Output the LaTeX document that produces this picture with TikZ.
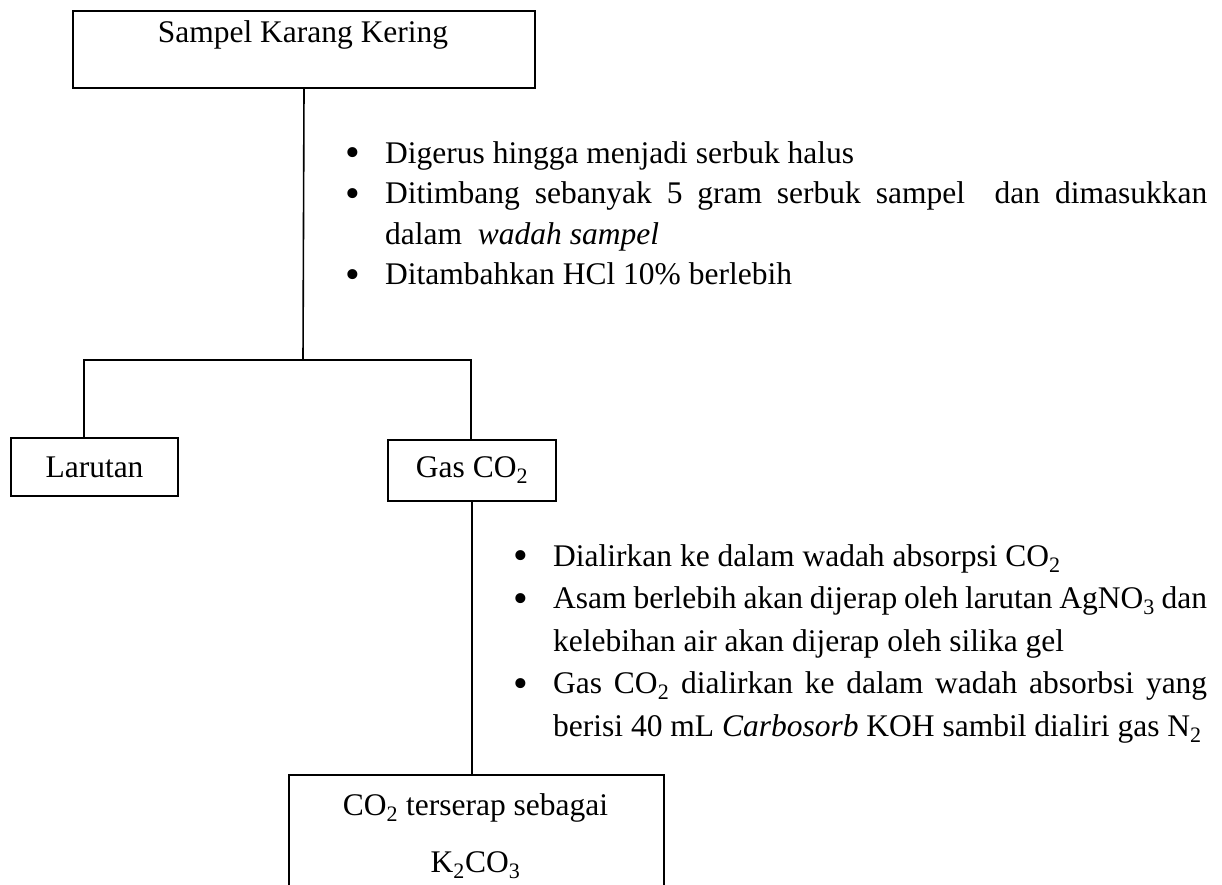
\documentclass[tikz,border=0pt]{standalone}
\usepackage{fontspec}
\setmainfont{Liberation Serif}
\newcommand\bul{\leavevmode\llap{\makebox[32pt][l]{\hspace{-7.35pt}\raisebox{-3.6pt}{\fontsize{42}{0}\selectfont\textbullet}}}}
\begin{document}
\begin{tikzpicture}[x=1pt,y=-1pt,
  box/.style={draw, line width=2pt, inner sep=0pt},
  conn/.style={line width=1.6pt},
  every node/.style={font=\fontsize{31.5}{40}\selectfont}]
\useasboundingbox (0,0) rectangle (1222,884);
\clip (0,0) rectangle (1222,884);
% boxes
\node[box, minimum width=462pt, minimum height=77pt, anchor=north west] (top) at (72,10) {};
\node[anchor=base] (toptxt) at (303,42) {Sampel Karang Kering};
\node[box, minimum width=167pt, minimum height=58pt, anchor=north west] (lar) at (10,437) {Larutan};
\node[box, minimum width=168pt, minimum height=61pt, anchor=north west] (gas) at (387,439) {Gas CO\textsubscript{2}};
\node[box, minimum width=375pt, minimum height=200pt, anchor=north west] (res) at (288,774) {};
\node[anchor=base] (res1) at (475.5,815) {CO\textsubscript{2} terserap sebagai};
\node[anchor=base] (res2) at (475.5,872) {K\textsubscript{2}CO\textsubscript{3}};
% lists
\node[anchor=base west, inner sep=0pt] (list1) at (385,163) {\parbox[t]{822pt}{\fontsize{31.5}{40.5}\selectfont\setlength\parindent{0pt}%
\bul Digerus hingga menjadi serbuk halus\par
\bul Ditimbang sebanyak 5 gram serbuk sampel\ \ dan dimasukkan\linebreak dalam\ \ \textit{wadah sampel}\par
\bul Ditambahkan HCl 10\% berlebih\par}};
\node[anchor=base west, inner sep=0pt] (list2) at (553,566) {\parbox[t]{654pt}{\fontsize{31.5}{42.5}\selectfont\setlength\parindent{0pt}%
\bul Dialirkan ke dalam wadah absorpsi CO\textsubscript{2}\par
\bul Asam berlebih akan dijerap oleh larutan AgNO\textsubscript{3} dan\linebreak kelebihan air akan dijerap oleh silika gel\par
\bul Gas CO\textsubscript{2} dialirkan ke dalam wadah absorbsi yang\linebreak berisi 40 mL \textit{Carbosorb} KOH sambil dialiri gas N\textsubscript{2}\par}};
% connectors
\coordinate (split) at (303,360);
\coordinate (jl) at (84,360);
\coordinate (jr) at (471,360);
\draw[conn] (top.south) -- (split);
\draw[conn] (jl |- lar.north) -- (jl) -- (jr) -- (jr |- gas.north);
\draw[conn] (gas.south) -- (gas.south |- res.north);
\end{tikzpicture}
\end{document}
